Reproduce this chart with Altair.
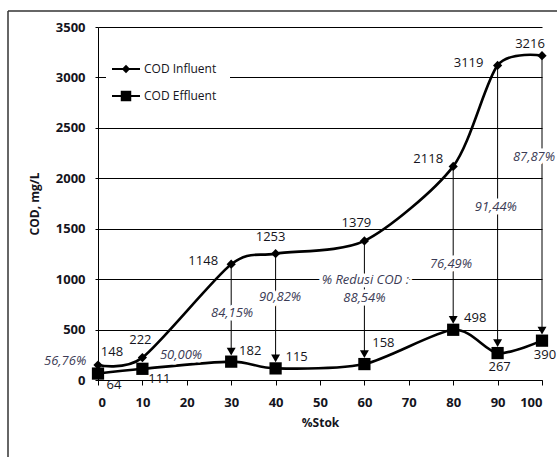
import altair as alt
import pandas as pd

# ---- data ----
stok = [0, 10, 30, 40, 60, 80, 90, 100]
influent = [148, 222, 1148, 1253, 1379, 2118, 3119, 3216]
effluent = [64, 111, 182, 115, 158, 498, 267, 390]

red_labels = ["56,76%", "50,00%", "84,15%", "90,82%", "88,54%", "76,49%", "91,44%", "87,87%"]
red_x = [-7.4, 18.7, 30.2, 41, 60, 79.5, 89.6, 98.2]
red_y = [188, 248, 664, 823, 813, 1150, 1715, 2211]

note_text = ["% Redusi COD :"]
note_x = [60.2]
note_y = [991]

arrow_from = 30  # arrows drawn for stok >= 30

# label offsets (style, pixels)
inf_off = [(14, -13), (-2, -18), (-28, -3), (-5, -17), (-8, -18), (-25, -7), (-29, -2), (-12, -12)]
eff_off = [(16, 11), (17, 10), (19, -11), (21, -11), (19, -21), (22, -12), (2, 14), (3, 14)]

FONT = "Open Sans"
TXT = "#141420"
PCT = "#3b3b55"

df = pd.DataFrame({"stok": stok, "inf": influent, "eff": effluent})
long = pd.concat([
    pd.DataFrame({"stok": stok, "val": influent, "series": "COD Influent"}),
    pd.DataFrame({"stok": stok, "val": effluent, "series": "COD Effluent"}),
])
red_df = pd.DataFrame({"x": red_x, "y": red_y, "t": red_labels})
note_df = pd.DataFrame({"x": note_x, "y": note_y, "t": note_text})
one = pd.DataFrame({"a": [0]})

xs = alt.Scale(domain=[0, 100], nice=False, zero=False)
ys = alt.Scale(domain=[0, 3500], nice=False)

X = alt.X("stok:Q", scale=xs, axis=alt.Axis(values=list(range(0, 101, 10)), title="%Stok", grid=False, format="d"))
Y = alt.Y("val:Q", scale=ys, axis=alt.Axis(values=list(range(0, 3501, 500)), title="COD, mg/L", grid=True, format="d"))

base = alt.Chart(df)

# axes carrier (invisible)
axes = alt.Chart(long).mark_point(opacity=0).encode(x=X, y=Y)

# legend background
leg_bg = alt.Chart(one).mark_rect(color="white").encode(
    x=alt.value(8), x2=alt.value(132), y=alt.value(29), y2=alt.value(83))

# arrows
arr = base.transform_filter(alt.datum.stok >= arrow_from)
rules = arr.mark_rule(color="black", strokeWidth=1, y2Offset=-10).encode(
    x=alt.X("stok:Q", scale=xs), y=alt.Y("inf:Q", scale=ys), y2="eff:Q")
heads = arr.mark_point(shape="triangle-down", filled=True, color="black", size=80, opacity=1, yOffset=-10).encode(
    x=alt.X("stok:Q", scale=xs), y=alt.Y("eff:Q", scale=ys))

# curves
line_inf = base.mark_line(color="black", strokeWidth=2.6, interpolate="cardinal", tension=0.2).encode(
    x=alt.X("stok:Q", scale=xs), y=alt.Y("inf:Q", scale=ys))
line_eff = base.mark_line(color="black", strokeWidth=2.6, interpolate="cardinal", tension=0.2).encode(
    x=alt.X("stok:Q", scale=xs), y=alt.Y("eff:Q", scale=ys))
pts_inf = base.mark_point(shape="diamond", filled=True, color="black", size=85, opacity=1).encode(
    x=alt.X("stok:Q", scale=xs), y=alt.Y("inf:Q", scale=ys))
pts_eff = base.mark_point(shape="square", filled=True, color="black", size=150, opacity=1).encode(
    x=alt.X("stok:Q", scale=xs), y=alt.Y("eff:Q", scale=ys))

# percentage labels with white halo
def pct_layer(d, halo):
    kw = dict(font=FONT, fontSize=13, fontStyle="italic", align="center", baseline="middle")
    if halo:
        kw.update(stroke="white", strokeWidth=7, strokeJoin="round", color="white")
    else:
        kw.update(color=PCT)
    return alt.Chart(d).mark_text(**kw).encode(
        x=alt.X("x:Q", scale=xs), y=alt.Y("y:Q", scale=ys), text="t:N")

pct = [pct_layer(red_df, True), pct_layer(note_df, True), pct_layer(red_df, False), pct_layer(note_df, False)]

# value labels
vals = []
for i, s in enumerate(stok):
    for col, off in (("inf", inf_off[i]), ("eff", eff_off[i])):
        vals.append(
            base.transform_filter(alt.datum.stok == s).mark_text(
                font=FONT, fontSize=13, color=TXT, dx=off[0], dy=off[1], align="center", baseline="middle"
            ).encode(x=alt.X("stok:Q", scale=xs), y=alt.Y(f"{col}:Q", scale=ys), text=f"{col}:Q")
        )

# manual legend
leg = [
    alt.Chart(one).mark_rule(color="black", strokeWidth=2).encode(x=alt.value(14), x2=alt.value(42), y=alt.value(42)),
    alt.Chart(one).mark_rule(color="black", strokeWidth=2).encode(x=alt.value(14), x2=alt.value(42), y=alt.value(69)),
    alt.Chart(one).mark_point(shape="diamond", filled=True, color="black", size=70, opacity=1).encode(x=alt.value(28), y=alt.value(42)),
    alt.Chart(one).mark_point(shape="square", filled=True, color="black", size=110, opacity=1).encode(x=alt.value(28), y=alt.value(69)),
    alt.Chart(one).mark_text(font=FONT, fontSize=12, color=TXT, align="left", baseline="middle").encode(
        x=alt.value(46), y=alt.value(42), text=alt.value("COD Influent")),
    alt.Chart(one).mark_text(font=FONT, fontSize=12, color=TXT, align="left", baseline="middle").encode(
        x=alt.value(46), y=alt.value(69), text=alt.value("COD Effluent")),
]

# outer frame
frame = [
    alt.Chart(one).mark_rule(color="#333333", strokeWidth=1.5).encode(x=alt.value(-90), y=alt.value(-16), y2=alt.value(440)),
    alt.Chart(one).mark_rule(color="#333333", strokeWidth=1.5).encode(x=alt.value(-90), x2=alt.value(470), y=alt.value(-16)),
]

chart = alt.layer(
    axes, *frame, leg_bg, rules, heads, line_inf, line_eff, pts_inf, pts_eff, *pct, *vals, *leg
).properties(
    width=444, height=353,
    autosize=alt.AutoSizeParams(type="none"),
    padding={"left": 98, "top": 27, "right": 15, "bottom": 77},
    background="white",
).configure_view(stroke=None).configure_axis(
    domainColor="black", domainWidth=1, tickColor="black", gridColor="black", gridWidth=1,
    labelFont=FONT, labelFontWeight="bold", labelFontSize=13, labelColor=TXT,
    titleFont=FONT, titleFontWeight="bold", titleFontSize=12, titleColor=TXT,
).configure_axisX(
    tickSize=5, labelPadding=11, titlePadding=8,
).configure_axisY(
    tickSize=3, labelPadding=10, titlePadding=14,
)

chart.save("out.html", embed_options={"renderer": "svg", "actions": False})
